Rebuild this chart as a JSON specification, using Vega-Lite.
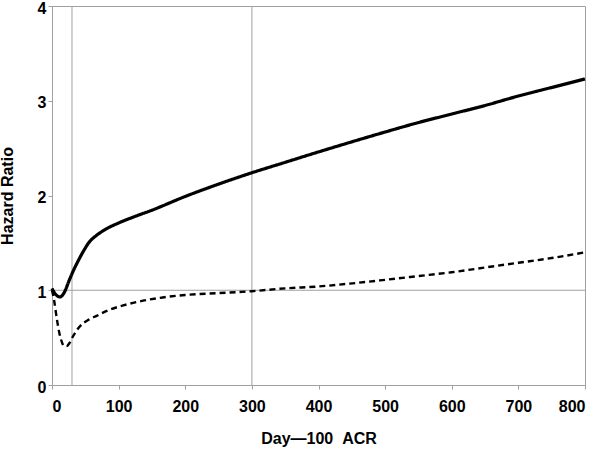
{
  "$schema": "https://vega.github.io/schema/vega-lite/v6.json",
  "width": 533,
  "height": 379,
  "autosize": {"type": "none"},
  "padding": {"left": 52, "top": 6, "right": 16, "bottom": 68},
  "background": "white",
  "config": {
    "view": {"stroke": "#a0a0a0", "strokeWidth": 1},
    "font": "Liberation Sans",
    "axis": {
      "grid": false,
      "domainColor": "#a0a0a0",
      "tickColor": "#a0a0a0",
      "tickSize": 4,
      "labelFont": "Liberation Sans",
      "labelFontWeight": "bold",
      "labelFontSize": 16,
      "labelColor": "black",
      "titleFont": "Liberation Sans",
      "titleFontWeight": "bold",
      "titleFontSize": 16,
      "titleColor": "black"
    }
  },
  "layer": [
    {
      "data": {"values": [{"gx": 30}, {"gx": 300}]},
      "mark": {"type": "rule", "color": "#a0a0a0", "strokeWidth": 1},
      "encoding": {"x": {"field": "gx", "type": "quantitative", "scale": {"domain": [0, 800], "nice": false}}}
    },
    {
      "data": {"values": [{"gy": 1}]},
      "mark": {"type": "rule", "color": "#a0a0a0", "strokeWidth": 1},
      "encoding": {"y": {"field": "gy", "type": "quantitative", "scale": {"domain": [0, 4], "nice": false}}}
    },
    {
      "data": {"values": [
        {"day": 0, "hr": 1.02, "series": "A"},
        {"day": 4, "hr": 0.97, "series": "A"},
        {"day": 8, "hr": 0.94, "series": "A"},
        {"day": 12, "hr": 0.93, "series": "A"},
        {"day": 16, "hr": 0.95, "series": "A"},
        {"day": 20, "hr": 1.0, "series": "A"},
        {"day": 25, "hr": 1.09, "series": "A"},
        {"day": 31, "hr": 1.19, "series": "A"},
        {"day": 40, "hr": 1.32, "series": "A"},
        {"day": 47, "hr": 1.41, "series": "A"},
        {"day": 55, "hr": 1.5, "series": "A"},
        {"day": 67, "hr": 1.58, "series": "A"},
        {"day": 75, "hr": 1.62, "series": "A"},
        {"day": 82, "hr": 1.65, "series": "A"},
        {"day": 100, "hr": 1.71, "series": "A"},
        {"day": 125, "hr": 1.78, "series": "A"},
        {"day": 150, "hr": 1.845, "series": "A"},
        {"day": 200, "hr": 1.99, "series": "A"},
        {"day": 250, "hr": 2.12, "series": "A"},
        {"day": 300, "hr": 2.24, "series": "A"},
        {"day": 350, "hr": 2.35, "series": "A"},
        {"day": 400, "hr": 2.46, "series": "A"},
        {"day": 447, "hr": 2.56, "series": "A"},
        {"day": 500, "hr": 2.67, "series": "A"},
        {"day": 550, "hr": 2.77, "series": "A"},
        {"day": 600, "hr": 2.86, "series": "A"},
        {"day": 650, "hr": 2.95, "series": "A"},
        {"day": 700, "hr": 3.05, "series": "A"},
        {"day": 750, "hr": 3.14, "series": "A"},
        {"day": 800, "hr": 3.23, "series": "A"},
        {"day": 0, "hr": 1.0, "series": "B"},
        {"day": 3, "hr": 0.9, "series": "B"},
        {"day": 7, "hr": 0.71, "series": "B"},
        {"day": 11, "hr": 0.55, "series": "B"},
        {"day": 15, "hr": 0.45, "series": "B"},
        {"day": 18, "hr": 0.41, "series": "B"},
        {"day": 22, "hr": 0.41, "series": "B"},
        {"day": 26, "hr": 0.44, "series": "B"},
        {"day": 32, "hr": 0.52, "series": "B"},
        {"day": 42, "hr": 0.62, "series": "B"},
        {"day": 55, "hr": 0.69, "series": "B"},
        {"day": 67, "hr": 0.73, "series": "B"},
        {"day": 85, "hr": 0.79, "series": "B"},
        {"day": 107, "hr": 0.84, "series": "B"},
        {"day": 130, "hr": 0.88, "series": "B"},
        {"day": 162, "hr": 0.92, "series": "B"},
        {"day": 200, "hr": 0.95, "series": "B"},
        {"day": 250, "hr": 0.97, "series": "B"},
        {"day": 300, "hr": 0.99, "series": "B"},
        {"day": 350, "hr": 1.02, "series": "B"},
        {"day": 400, "hr": 1.04, "series": "B"},
        {"day": 447, "hr": 1.07, "series": "B"},
        {"day": 500, "hr": 1.11, "series": "B"},
        {"day": 550, "hr": 1.15, "series": "B"},
        {"day": 600, "hr": 1.19, "series": "B"},
        {"day": 650, "hr": 1.24, "series": "B"},
        {"day": 700, "hr": 1.29, "series": "B"},
        {"day": 750, "hr": 1.34, "series": "B"},
        {"day": 800, "hr": 1.4, "series": "B"}
      ]},
      "mark": {"type": "line", "color": "black", "interpolate": "monotone"},
      "encoding": {
        "x": {
          "field": "day", "type": "quantitative",
          "scale": {"domain": [0, 800], "nice": false},
          "axis": {"values": [0, 100, 200, 300, 400, 500, 600, 700, 800], "title": "Day\u2014100\u00a0\u00a0ACR", "labelPadding": 9, "titlePadding": 16}
        },
        "y": {
          "field": "hr", "type": "quantitative",
          "scale": {"domain": [0, 4], "nice": false},
          "axis": {"values": [0, 1, 2, 3, 4], "format": "d", "title": "Hazard Ratio", "labelPadding": 2, "labelOffset": 2, "titlePadding": 22}
        },
        "strokeDash": {"field": "series", "type": "nominal", "scale": {"domain": ["A", "B"], "range": [[1, 0], [6, 4]]}, "legend": null},
        "strokeWidth": {"field": "series", "type": "nominal", "scale": {"domain": ["A", "B"], "range": [3.2, 2.4]}, "legend": null}
      }
    }
  ]
}
